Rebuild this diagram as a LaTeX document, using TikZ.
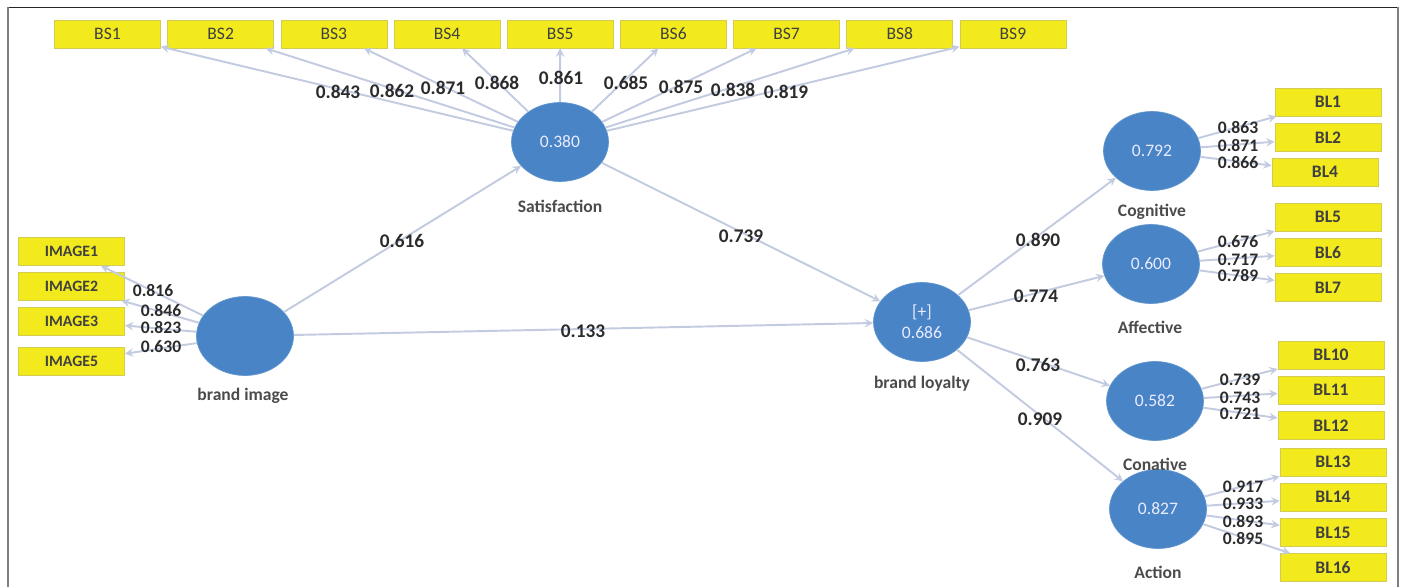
\documentclass[tikz,border=0pt]{standalone}
\usepackage{fontspec}
\setmainfont{Carlito}
\usepackage{xcolor}
\usetikzlibrary{shapes.geometric, arrows, positioning}
\definecolor{plsyellow}{HTML}{F2EA1C}
\definecolor{plsblue}{HTML}{4884C6}
\definecolor{plsline}{HTML}{C3CBE0}
\definecolor{plstext}{HTML}{2B2B2B}

\begin{document}
\begin{tikzpicture}[
    x=0.02cm, y=-0.02cm,
    indicator/.style={rectangle, draw=yellow!60!gray, fill=plsyellow, minimum width=2.12cm, minimum height=0.56cm, inner sep=0pt, text=plstext!90, font=\fontsize{10}{12}\selectfont},
    latent/.style={ellipse, draw=plsblue!85!white, fill=plsblue, minimum width=1.94cm, minimum height=1.58cm, inner sep=0pt, align=center, text=blue!8!white, font=\fontsize{10}{12}\selectfont},
    lvname/.style={text=plstext!85, font=\bfseries\fontsize{10}{12}\selectfont},
    coef/.style={inner sep=0pt, text=plstext, font=\bfseries\fontsize{11}{12}\selectfont},
    stack/.style={coef, font=\bfseries\fontsize{10}{11}\selectfont},
    link/.style={draw=plsline, line width=1.1pt, ->, >=stealth}
  ]
    \useasboundingbox (0,0) rectangle (1403,587);

    % Frame
    \draw [black!85, line width=0.8pt] (7,7.5) -- (1398,7.5);
    \draw [gray, line width=1.6pt] (8,7.5) -- (8,587);
    \draw [gray, line width=1.6pt] (1398,7.5) -- (1398,587);

    % Latent variables
    \node (sat) [latent] at (560,142) {0.380};
    \node (bimg) [latent] at (245,336) {};
    \node (bloy) [latent] at (922,322) {[+]\\0.686};
    \node (cog) [latent] at (1152,151) {0.792};
    \node (aff) [latent] at (1151,264) {0.600};
    \node (con) [latent] at (1155,401) {0.582};
    \node (act) [latent] at (1158,509) {0.827};

    \node (satname) [lvname] at (560,206) {Satisfaction};
    \node (bimgname) [lvname] at (243,396) {brand image};
    \node (bloyname) [lvname] at (922,384) {brand loyalty};
    \node (cogname) [lvname] at (1152,212) {Cognitive};
    \node (affname) [lvname] at (1150,327) {Affective};
    \node (conname) [lvname] at (1155,464) {Conative};
    \node (actname) [lvname] at (1158,572) {Action};

    % Satisfaction indicators
    \node (bs1) [indicator] at (107.5,34) {BS1};
    \node (bs2) [indicator, right=0.13cm of bs1] {BS2};
    \node (bs3) [indicator, right=0.13cm of bs2] {BS3};
    \node (bs4) [indicator, right=0.13cm of bs3] {BS4};
    \node (bs5) [indicator, right=0.13cm of bs4] {BS5};
    \node (bs6) [indicator, right=0.13cm of bs5] {BS6};
    \node (bs7) [indicator, right=0.13cm of bs6] {BS7};
    \node (bs8) [indicator, right=0.13cm of bs7] {BS8};
    \node (bs9) [indicator, right=0.13cm of bs8] {BS9};

    % Brand image indicators
    \node (img1) [indicator, font=\bfseries\fontsize{9}{11}\selectfont] at (71.5,251.5) {IMAGE1};
    \node (img2) [indicator, font=\bfseries\fontsize{9}{11}\selectfont, below=0.12cm of img1] {IMAGE2};
    \node (img3) [indicator, font=\bfseries\fontsize{9}{11}\selectfont, below=0.12cm of img2] {IMAGE3};
    \node (img5) [indicator, font=\bfseries\fontsize{9}{11}\selectfont, below=0.24cm of img3] {IMAGE5};

    % Brand loyalty indicators
    \node (bl1) [indicator, font=\bfseries\fontsize{10}{12}\selectfont] at (1328,102) {BL1};
    \node (bl2) [indicator, font=\bfseries\fontsize{10}{12}\selectfont, below=0.14cm of bl1] {BL2};
    \node (bl4) [indicator, font=\bfseries\fontsize{10}{12}\selectfont] at (1325,172) {BL4};
    \node (bl5) [indicator, font=\bfseries\fontsize{10}{12}\selectfont] at (1328,217) {BL5};
    \node (bl6) [indicator, font=\bfseries\fontsize{10}{12}\selectfont, below=0.13cm of bl5] {BL6};
    \node (bl7) [indicator, font=\bfseries\fontsize{10}{12}\selectfont, below=0.13cm of bl6] {BL7};
    \node (bl10) [indicator, font=\bfseries\fontsize{10}{12}\selectfont] at (1331,355) {BL10};
    \node (bl11) [indicator, font=\bfseries\fontsize{10}{12}\selectfont, below=0.13cm of bl10] {BL11};
    \node (bl12) [indicator, font=\bfseries\fontsize{10}{12}\selectfont, below=0.13cm of bl11] {BL12};
    \node (bl13) [indicator, font=\bfseries\fontsize{10}{12}\selectfont] at (1333,462) {BL13};
    \node (bl14) [indicator, font=\bfseries\fontsize{10}{12}\selectfont, below=0.13cm of bl13] {BL14};
    \node (bl15) [indicator, font=\bfseries\fontsize{10}{12}\selectfont, below=0.13cm of bl14] {BL15};
    \node (bl16) [indicator, font=\bfseries\fontsize{10}{12}\selectfont, below=0.13cm of bl15] {BL16};

    % Outer loadings
    \draw [link] (sat) -- (bs1);
    \draw [link] (sat) -- (bs2);
    \draw [link] (sat) -- (bs3);
    \draw [link] (sat) -- (bs4);
    \draw [link] (sat) -- (bs5);
    \draw [link] (sat) -- (bs6);
    \draw [link] (sat) -- (bs7);
    \draw [link] (sat) -- (bs8);
    \draw [link] (sat) -- (bs9);
    \draw [link] (bimg) -- (img1);
    \draw [link] (bimg) -- (img2);
    \draw [link] (bimg) -- (img3);
    \draw [link] (bimg) -- (img5);
    \draw [link] (cog) -- (bl1);
    \draw [link] (cog) -- (bl2);
    \draw [link] (cog) -- (bl4);
    \draw [link] (aff) -- (bl5);
    \draw [link] (aff) -- (bl6);
    \draw [link] (aff) -- (bl7);
    \draw [link] (con) -- (bl10);
    \draw [link] (con) -- (bl11);
    \draw [link] (con) -- (bl12);
    \draw [link] (act) -- (bl13);
    \draw [link] (act) -- (bl14);
    \draw [link] (act) -- (bl15);
    \draw [link] (act) -- (bl16);

    % Path coefficients
    \draw [link] (bimg) -- (sat);
    \draw [link] (bimg) -- (bloy);
    \draw [link] (sat) -- (bloy);
    \draw [link] (bloy) -- (cog);
    \draw [link] (bloy) -- (aff);
    \draw [link] (bloy) -- (con);
    \draw [link] (bloy) -- (act);

    % Loading values
    \node (lbs1) [coef] at (338,92) {0.843};
    \node (lbs2) [coef] at (392,91) {0.862};
    \node (lbs3) [coef] at (443,88) {0.871};
    \node (lbs4) [coef] at (497,83) {0.868};
    \node (lbs5) [coef] at (561,78) {0.861};
    \node (lbs6) [coef] at (626,83) {0.685};
    \node (lbs7) [coef] at (681,87) {0.875};
    \node (lbs8) [coef] at (733,90) {0.838};
    \node (lbs9) [coef] at (786,92) {0.819};

    \node (limg1) [stack] at (153,291) {0.816};
    \node (limg2) [stack] at (161,311) {0.846};
    \node (limg3) [stack] at (161,328) {0.823};
    \node (limg5) [stack] at (161,347) {0.630};

    \node (lbl1) [stack] at (1238,128) {0.863};
    \node (lbl2) [stack] at (1238,145.5) {0.871};
    \node (lbl4) [stack] at (1238,163) {0.866};
    \node (lbl5) [stack] at (1238,242) {0.676};
    \node (lbl6) [stack] at (1238,259.5) {0.717};
    \node (lbl7) [stack] at (1238,276) {0.789};
    \node (lbl10) [stack] at (1240,380) {0.739};
    \node (lbl11) [stack] at (1240,397.5) {0.743};
    \node (lbl12) [stack] at (1240,414) {0.721};
    \node (lbl13) [stack] at (1243,487) {0.917};
    \node (lbl14) [stack] at (1243,504) {0.933};
    \node (lbl15) [stack] at (1243,521) {0.893};
    \node (lbl16) [stack] at (1243,538) {0.895};

    \node (lsat) [coef] at (402,241) {0.616};
    \node (lbloy1) [coef] at (741,236) {0.739};
    \node (lbloy2) [coef] at (583,331) {0.133};
    \node (lcog) [coef] at (1038,240) {0.890};
    \node (laff) [coef] at (1036,296) {0.774};
    \node (lcon) [coef] at (1038,365) {0.763};
    \node (lact) [coef] at (1040,419) {0.909};

  \end{tikzpicture}
\end{document}
